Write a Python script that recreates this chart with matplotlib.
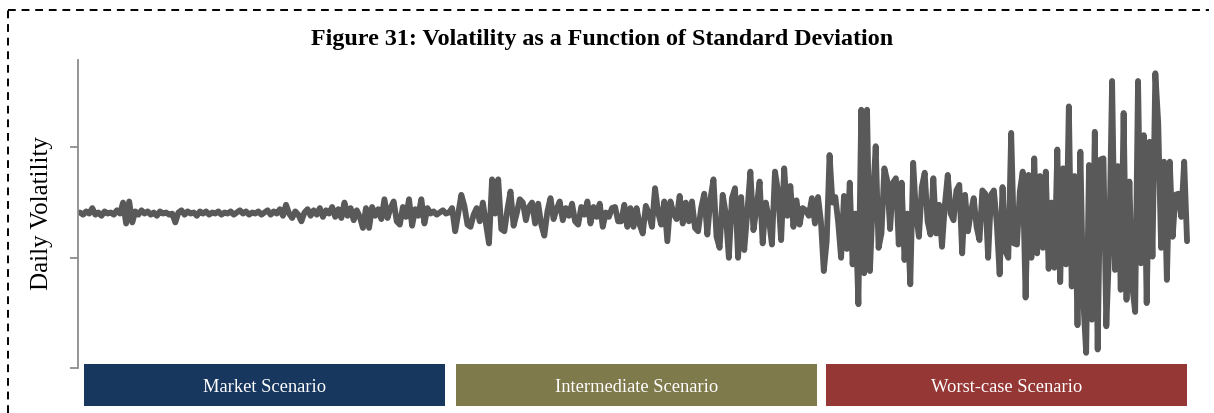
import numpy as np
import matplotlib
matplotlib.use('Agg')
import matplotlib.pyplot as plt
from matplotlib.patches import Rectangle
from matplotlib.lines import Line2D

# daily volatility (bp), one list per scenario
market = [141, 139, 142, 140, 145, 139, 141, 138, 142, 140,
          141, 139, 143, 140, 150, 131, 151, 132, 142, 139,
          143, 140, 142, 139, 141, 138, 142, 140, 141, 139,
          140, 132, 141, 143, 139, 142, 140, 141, 138, 142,
          140, 142, 139, 141, 140, 142, 139, 141, 140, 142,
          139, 141, 143, 140, 142, 139, 141, 140, 142, 139,
          141, 143, 139, 142, 140, 144, 138, 148, 140, 136,
          142, 139, 133, 141, 144, 138, 143, 139, 145, 137,
          143, 140, 146, 137, 144, 136, 150, 138, 145, 134,
          143, 137, 127, 145, 127, 146, 138, 144, 135, 153,
          136, 145, 151, 133, 130, 146, 137, 153, 129, 144,
          138, 153, 131, 145, 140, 142, 139, 141, 143, 140]

intermediate = [141, 145, 124, 140, 157, 147, 130, 128, 139, 145,
                133, 150, 131, 113, 171, 140, 171, 126, 124, 144,
                160, 129, 140, 153, 150, 134, 146, 150, 131, 149,
                130, 120, 142, 154, 135, 144, 151, 134, 145, 138,
                149, 133, 130, 146, 139, 151, 131, 146, 137, 149,
                128, 141, 137, 145, 146, 133, 133, 148, 128, 145,
                128, 145, 130, 122, 147, 140, 128, 163, 141, 130,
                151, 115, 151, 140, 135, 156, 131, 150, 133, 151,
                127, 124, 145, 158, 121, 153, 171, 119, 109, 157,
                140, 100, 154, 163, 100, 155, 107, 141, 178, 125,
                145, 169, 113, 150, 136, 112, 178, 160, 116, 181,
                138, 165, 128, 152, 130, 145, 143, 138, 154, 131]

worst_case = [155, 133, 88, 115, 193, 150, 155, 132, 100, 156,
              108, 168, 94, 140, 58, 234, 86, 234, 88, 152,
              201, 109, 122, 181, 170, 126, 168, 172, 112, 168,
              98, 140, 76, 186, 139, 119, 164, 177, 133, 121,
              172, 122, 148, 110, 148, 175, 140, 134, 161, 166,
              104, 157, 124, 141, 154, 128, 116, 161, 158, 100,
              157, 161, 131, 85, 164, 106, 100, 213, 113, 112,
              160, 178, 64, 175, 100, 190, 104, 174, 109, 178,
              90, 150, 91, 198, 78, 181, 94, 237, 74, 174,
              39, 196, 62, 14, 184, 44, 214, 17, 189, 190,
              38, 110, 260, 89, 183, 71, 231, 62, 169, 74,
              51, 260, 95, 211, 59, 205, 101, 267, 222, 109,
              187, 80, 187, 119, 157, 158, 137, 187, 115]

scenarios = ['Market Scenario', 'Intermediate Scenario', 'Worst-case Scenario']
scenario_colors = ['#17375e', '#7f7a4b', '#953735']
y_ticks = [0, 100, 200]

plt.rcParams['font.family'] = ['Liberation Serif', 'DejaVu Serif']

W, H = 1214, 414
fig = plt.figure(figsize=(W / 100, H / 100), dpi=100, facecolor='white')
ax = fig.add_axes([78 / W, 44.7 / H, 1112 / W, 308.3 / H])

series = [market, intermediate, worst_case]
xs = []
for r, vals in enumerate(series):
    last = (r == len(series) - 1)
    xs.append(np.linspace(r, r + 1, len(vals), endpoint=last))
x = np.concatenate(xs)
y = np.concatenate([np.array(v, dtype=float) for v in series])

ax.plot(x, y, color='#595959', lw=4.2,
        solid_joinstyle='round', solid_capstyle='round')

ax.set_xlim(-0.0054, 3.008)
ax.set_ylim(0, 279)
for s in ['top', 'right', 'bottom']:
    ax.spines[s].set_visible(False)
ax.spines['left'].set_color('#8c8c8c')
ax.spines['left'].set_linewidth(1.3)
ax.set_xticks([])
ax.set_yticks(y_ticks)
ax.set_yticklabels([])
ax.tick_params(axis='y', length=6, width=1.3, color='#8c8c8c', direction='out')

fig.text(42 / W, 1 - 213.5 / H, 'Daily Volatility', rotation=90,
         ha='center', va='center', fontsize=18)
fig.text(602 / W, 1 - 40 / H, 'Figure 31: Volatility as a Function of Standard Deviation',
         ha='center', va='center', fontsize=17.3, fontweight='bold')

# scenario boxes under the line (pixel layout)
box_left = [84, 456, 826]
for left, name, col in zip(box_left, scenarios, scenario_colors):
    fig.add_artist(Rectangle((left / W, 1 - 407 / H), 361 / W, 42 / H,
                             transform=fig.transFigure, facecolor=col,
                             edgecolor='none', zorder=3))
    fig.text((left + 180.5) / W, 1 - 388 / H, name, ha='center', va='center',
             color='white', fontsize=13.3, zorder=4)

# dashed frame (left and top only)
bx, by = 8 / W, 1 - 11 / H
fig.add_artist(Line2D([bx, bx], [0, by], transform=fig.transFigure, color='black',
                      lw=1.4, linestyle=(0, (4, 3))))
fig.add_artist(Line2D([bx, 1209 / W], [by, by], transform=fig.transFigure, color='black',
                      lw=1.4, linestyle=(0, (4, 3))))

fig.savefig('out.png', dpi=100, facecolor='white')
